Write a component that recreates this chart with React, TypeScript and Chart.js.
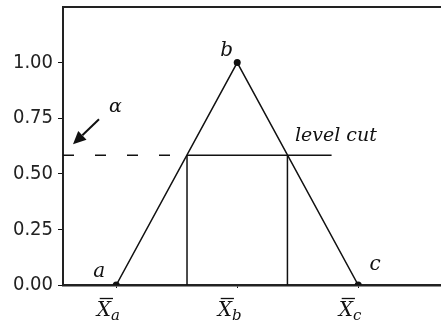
import React, { useEffect, useRef } from 'react';
import { Chart, registerables } from 'chart.js';

Chart.register(...registerables);

// ---- data ----
const yTickValues = [0, 0.25, 0.5, 0.75, 1];
const yTickLabels = ['0.00', '0.25', '0.50', '0.75', '1.00'];
const xRange = [0.56, 3.8];
const yRange = [0, 1.25];
const triangleX = [1, 2, 3];
const triangleY = [0, 1, 0];
const pointNames = ['a', 'b', 'c'];
const xTickValues = [1, 2, 3];
const xTickSubs = ['a', 'b', 'c'];
const cutLevel = 0.583;
const cutLeftX = 1.585;
const cutRightX = 2.415;
const cutLineEndX = 2.78;
const cutLabel = 'level cut';
const alphaLabel = 'α';

const INK = '#111';
const SERIF = '"DejaVu Serif", "Liberation Serif", serif';

const annotations = {
  id: 'annotations',
  afterDraw(chart: any) {
    const { ctx, chartArea, scales } = chart;
    const xs = scales.x;
    const ys = scales.y;
    ctx.save();
    // top frame line
    ctx.strokeStyle = '#222';
    ctx.lineWidth = 2;
    ctx.beginPath();
    ctx.moveTo(chartArea.left - 1, chartArea.top);
    ctx.lineTo(chart.width, chartArea.top);
    ctx.stroke();

    ctx.fillStyle = INK;
    ctx.strokeStyle = INK;

    // x tick labels: X with overline + subscript
    xTickValues.forEach((v, i) => {
      const px = xs.getPixelForValue(v);
      const x0 = px - 19.5;
      ctx.font = `italic 20px ${SERIF}`;
      ctx.textAlign = 'left';
      ctx.textBaseline = 'alphabetic';
      ctx.fillText('X', x0, 316);
      const w = ctx.measureText('X').width;
      ctx.lineWidth = 1.3;
      ctx.beginPath();
      ctx.moveTo(x0 + 3, 298.5);
      ctx.lineTo(x0 + w + 2, 298.5);
      ctx.stroke();
      ctx.font = `italic 15px ${SERIF}`;
      ctx.fillText(xTickSubs[i], x0 + w, 320);
    });

    // point names
    const offsets = [
      [-17, -8],
      [-10.5, -7],
      [17, -15],
    ];
    ctx.font = `italic 20px ${SERIF}`;
    ctx.textAlign = 'center';
    ctx.textBaseline = 'alphabetic';
    triangleX.forEach((v, i) => {
      const px = xs.getPixelForValue(v);
      const py = ys.getPixelForValue(triangleY[i]);
      ctx.fillText(pointNames[i], px + offsets[i][0], py + offsets[i][1]);
    });

    // level cut label
    const cy = ys.getPixelForValue(cutLevel);
    ctx.textAlign = 'left';
    ctx.font = `italic 19px ${SERIF}`;
    ctx.fillText(cutLabel, xs.getPixelForValue(cutRightX) + 7.5, cy - 14);

    // alpha + arrow
    ctx.font = `italic 19px ${SERIF}`;
    ctx.textAlign = 'center';
    ctx.fillText(alphaLabel, chartArea.left + 52.5, cy - 43);
    const tipX = chartArea.left + 10;
    const tipY = cy - 11;
    const tailX = chartArea.left + 36;
    const tailY = cy - 36;
    const ang = Math.atan2(tipY - tailY, tipX - tailX);
    const hl = 13;
    const hw = 6;
    const bx = tipX - hl * Math.cos(ang);
    const by = tipY - hl * Math.sin(ang);
    ctx.lineWidth = 2;
    ctx.beginPath();
    ctx.moveTo(tailX, tailY);
    ctx.lineTo(bx, by);
    ctx.stroke();
    ctx.beginPath();
    ctx.moveTo(tipX, tipY);
    ctx.lineTo(bx + hw * Math.sin(ang), by - hw * Math.cos(ang));
    ctx.lineTo(bx - hw * Math.sin(ang), by + hw * Math.cos(ang));
    ctx.closePath();
    ctx.fill();
    ctx.restore();
  },
};

export default function App() {
  const ref = useRef<HTMLCanvasElement>(null);
  useEffect(() => {
    document.body.style.margin = '0';
    const lineDs = (data: { x: number; y: number }[], extra: any = {}) => ({
      data,
      showLine: true,
      borderColor: INK,
      backgroundColor: INK,
      borderWidth: 1.5,
      pointRadius: 0,
      ...extra,
    });
    const chart = new Chart(ref.current!, {
      type: 'scatter',
      data: {
        datasets: [
          lineDs(
            triangleX.map((x, i) => ({ x, y: triangleY[i] })),
            { pointRadius: 3.5, pointBackgroundColor: INK, pointBorderWidth: 0 }
          ),
          lineDs(
            [
              { x: xRange[0], y: cutLevel },
              { x: cutLeftX, y: cutLevel },
            ],
            { borderDash: [11, 21] }
          ),
          lineDs([
            { x: cutLeftX, y: cutLevel },
            { x: cutLineEndX, y: cutLevel },
          ]),
          lineDs([
            { x: cutLeftX, y: 0 },
            { x: cutLeftX, y: cutLevel },
          ]),
          lineDs([
            { x: cutRightX, y: 0 },
            { x: cutRightX, y: cutLevel },
          ]),
        ],
      },
      options: {
        animation: false,
        responsive: false,
        events: [],
        layout: { padding: { top: 7, right: 15, left: 0, bottom: 0 } },
        plugins: { legend: { display: false }, tooltip: { enabled: false } },
        scales: {
          x: {
            type: 'linear',
            min: xRange[0],
            max: xRange[1],
            afterBuildTicks: (s: any) => {
              s.ticks = xTickValues.map((v) => ({ value: v }));
            },
            afterFit: (s: any) => {
              s.height = 41;
              s.paddingLeft = 0;
              s.paddingRight = 0;
            },
            ticks: { display: false },
            grid: {
              drawOnChartArea: false,
              drawTicks: true,
              tickLength: 3,
              color: INK,
              lineWidth: 1,
            },
            border: { display: true, color: '#222', width: 2.5 },
          },
          y: {
            type: 'linear',
            min: yRange[0],
            max: yRange[1],
            afterBuildTicks: (s: any) => {
              s.ticks = yTickValues.map((v) => ({ value: v }));
            },
            afterFit: (s: any) => {
              s.width = 63;
              s.paddingTop = 0;
              s.paddingBottom = 0;
            },
            ticks: {
              color: '#222',
              padding: 5,
              font: { family: '"DejaVu Sans Condensed", "DejaVu Sans", sans-serif', size: 20 },
              callback: (v: any) => {
                const i = yTickValues.indexOf(Number(v));
                return i >= 0 ? yTickLabels[i] : '';
              },
            },
            grid: {
              drawOnChartArea: false,
              drawTicks: true,
              tickLength: 5,
              color: INK,
              lineWidth: 1,
            },
            border: { display: true, color: '#222', width: 2 },
          },
        },
      },
      plugins: [annotations],
    });
    return () => chart.destroy();
  }, []);
  return (
    <div style={{ position: 'absolute', left: 0, top: 0, width: 441, height: 326, overflow: 'hidden', background: '#fff' }}>
      <canvas ref={ref} width={470} height={326} />
    </div>
  );
}
